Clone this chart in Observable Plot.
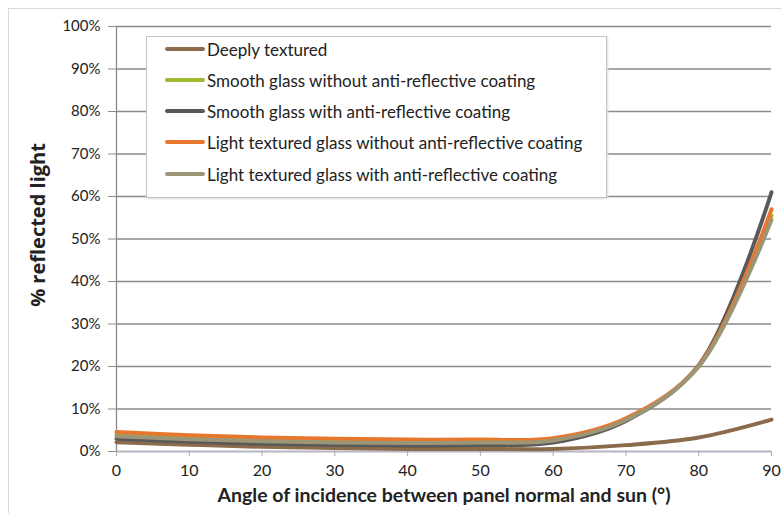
<!DOCTYPE html>
<html>
<head>
<meta charset="utf-8">
<script src="https://cdn.jsdelivr.net/npm/d3@7"></script>
<script src="https://cdn.jsdelivr.net/npm/@observablehq/plot@0.6"></script>
<style>
  html, body { margin: 0; padding: 0; background: #fff; overflow: hidden; }
  #wrap { position: relative; width: 781px; height: 513px; overflow: hidden; font-family: Lato, "Open Sans", sans-serif; }
  #frame { position: absolute; left: 8px; top: 8px; width: 800px; height: 600px; border: 1px solid #d9d9d9; box-sizing: border-box; }
  #legend { position: absolute; left: 146px; top: 36px; width: 461px; height: 162px; border: 1px solid #c4c4c4; box-shadow: 1px 1px 2px #ddd; background: #fff; box-sizing: border-box; }
  .row { position: absolute; left: 18px; height: 22px; display: flex; align-items: center; font-size: 17px; color: #222; white-space: nowrap; }
  .sw { width: 40px; height: 4px; border-radius: 2px; margin-right: 2px; }
  #chart { position: absolute; left: 0; top: 0; }
</style>
</head>
<body>
<div id="wrap">
  <div id="frame"></div>
  <div id="chart"></div>
  <div id="legend"></div>
</div>
<script>
const angles = [0, 10, 20, 30, 40, 50, 60, 70, 80, 90];
const seriesNames = [
  "Deeply textured",
  "Smooth glass without anti-reflective coating",
  "Smooth glass with anti-reflective coating",
  "Light textured glass without anti-reflective coating",
  "Light textured glass with anti-reflective coating"
];
const seriesColors = ["#8b6b4c", "#9cbb2e", "#595959", "#e8772e", "#9c9676"];
const deeplyTextured   = [2.2, 1.6, 1.1, 0.8, 0.6, 0.6, 0.6, 1.5, 3.3, 7.5];
const smoothNoAR       = [4.0, 3.4, 3.0, 2.7, 2.6, 2.6, 2.9, 7.4, 20.0, 55.5];
const smoothAR         = [3.0, 2.3, 1.8, 1.5, 1.4, 1.5, 2.1, 7.2, 20.3, 61.0];
const lightNoAR        = [4.6, 3.8, 3.3, 3.0, 2.8, 2.8, 3.1, 7.8, 20.2, 57.0];
const lightAR          = [3.6, 2.9, 2.4, 2.1, 2.0, 2.1, 2.6, 7.4, 20.0, 54.5];
const seriesValues = [deeplyTextured, smoothNoAR, smoothAR, lightNoAR, lightAR];
const xTicks = [0, 10, 20, 30, 40, 50, 60, 70, 80, 90];
const yTicks = [0, 10, 20, 30, 40, 50, 60, 70, 80, 90, 100];
const xTitle = "Angle of incidence between panel normal and sun (°)";
const yTitle = "% reflected light";

const rows = [];
seriesValues.forEach((vals, i) => vals.forEach((v, j) => rows.push({series: seriesNames[i], angle: angles[j], value: v})));

const chart = Plot.plot({
  width: 781,
  height: 513,
  marginLeft: 116,
  marginRight: 10,
  marginTop: 26,
  marginBottom: 62,
  style: {fontFamily: "Lato, 'Open Sans', sans-serif", fontSize: "15px", color: "#222", background: "transparent"},
  x: {domain: [0, 90]},
  y: {domain: [0, 100]},
  color: {domain: seriesNames, range: seriesColors},
  marks: [
    Plot.gridY(yTicks, {x1: 0, x2: 90, stroke: "#8a8a8a", strokeOpacity: 1, strokeWidth: 1.3}),
    Plot.ruleX([0], {y1: 0, y2: 100, stroke: "#8a8a8a", strokeWidth: 1.3}),
    Plot.ruleY([0], {stroke: "#b8b8c8", strokeWidth: 1.5}),
    Plot.axisY(yTicks, {tickSize: 8, tickPadding: 8, tickFormat: d => d + "%", stroke: "#8a8a8a", fontSize: 15, label: null}),
    Plot.axisX(xTicks, {tickSize: 5, tickPadding: 8, stroke: "#aaa", fontSize: 16, label: null}),
    Plot.text([yTitle], {frameAnchor: "left", textAnchor: "middle", dx: -78, dy: -14, rotate: -90, fontFamily: "'Open Sans', Lato, sans-serif", fontWeight: "bold", fontSize: 20, fill: "#222"}),
    Plot.text([xTitle], {frameAnchor: "bottom", dy: 50, fontWeight: "bold", fontSize: 19.5, fill: "#222"}),
    Plot.line(rows, {x: "angle", y: "value", z: "series", stroke: "series", strokeWidth: 4, curve: "catmull-rom", strokeLinecap: "round"})
  ]
});
document.getElementById("chart").appendChild(chart);

const legend = document.getElementById("legend");
const rowTops = [1, 32, 63, 94, 126];
seriesNames.forEach((name, i) => {
  const r = document.createElement("div");
  r.className = "row";
  r.style.top = rowTops[i] + "px";
  const sw = document.createElement("div");
  sw.className = "sw";
  sw.style.background = seriesColors[i];
  const t = document.createElement("span");
  t.textContent = name;
  r.appendChild(sw);
  r.appendChild(t);
  legend.appendChild(r);
});
</script>
</body>
</html>
